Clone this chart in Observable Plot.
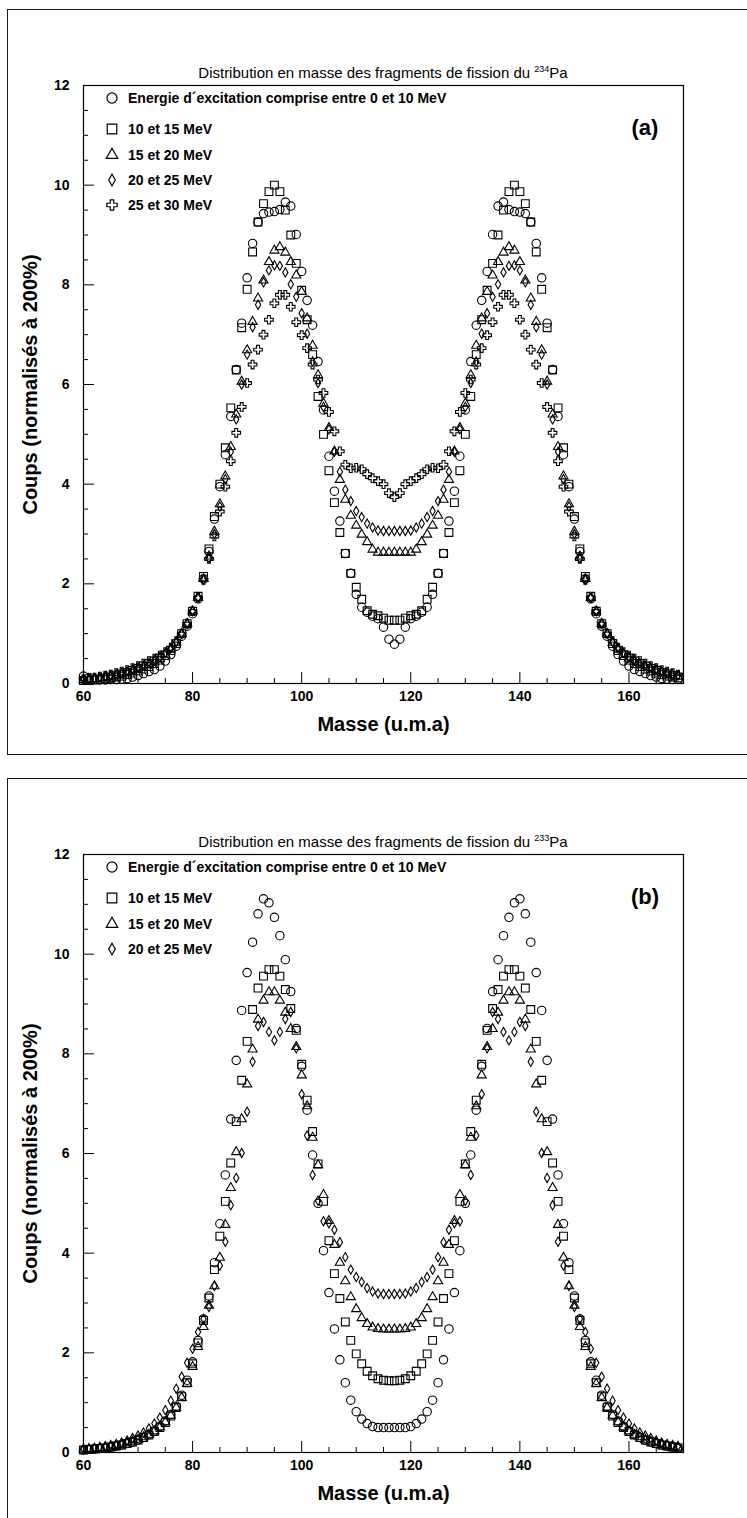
<!DOCTYPE html>
<html>
<head>
<meta charset="utf-8">
<script src="https://cdn.jsdelivr.net/npm/d3@7"></script>
<script src="https://cdn.jsdelivr.net/npm/@observablehq/plot@0.6"></script>
<style>
  html, body { margin:0; padding:0; background:#fff; }
  #root { position:relative; width:747px; height:1518px; overflow:hidden; background:#fff;
          font-family:"Liberation Sans", Arial, Helvetica, sans-serif; color:#000; }
  .panel { position:absolute; left:0; width:747px; height:769px; }
  .border { position:absolute; left:7px; top:9px; width:800px; height:746px; border:1.5px solid #1a1a1a; box-sizing:border-box; pointer-events:none; }
  .title { position:absolute; left:83px; width:600px; top:64px; height:18px; line-height:18px; text-align:center; font-size:15px; white-space:nowrap; }
  .title sup { font-size:9px; vertical-align:6px; line-height:0; }
  .tag { position:absolute; left:615px; width:60px; top:115px; line-height:26px; text-align:center; font-size:22px; font-weight:bold; }
  .legend-row { position:absolute; left:100px; height:20px; line-height:20px; font-size:14px; font-weight:bold; white-space:nowrap; }
  .legend-row svg { position:absolute; left:2px; top:0; }
  .legend-row span { position:absolute; left:28px; top:0; }
  g[aria-label="x-axis label"] { font-size:20px; }
  g[aria-label="y-axis label"] { font-size:20px; }
</style>
</head>
<body>
<div id="root"></div>
<script>
// ---------- data ----------
const masses = [
  60,61,62,63,64,65,66,67,68,69,
  70,71,72,73,74,75,76,77,78,79,
  80,81,82,83,84,85,86,87,88,89,
  90,91,92,93,94,95,96,97,98,99,
  100,101,102,103,104,105,106,107,108,109,
  110,111,112,113,114,115,116,117,118,119,
  120,121,122,123,124,125,126,127,128,129,
  130,131,132,133,134,135,136,137,138,139,
  140,141,142,143,144,145,146,147,148,149,
  150,151,152,153,154,155,156,157,158,159,
  160,161,162,163,164,165,166,167,168,169
];

// Panel (a) : 234Pa
const pa234_0_10 = [
  0.15,0.12,0.08,0.07,0.07,0.08,0.08,0.09,0.10,0.13,
  0.16,0.20,0.24,0.28,0.35,0.45,0.58,0.75,0.95,1.15,
  1.40,1.70,2.10,2.65,3.30,3.95,4.59,5.36,6.30,7.23,
  8.14,8.83,9.26,9.43,9.46,9.47,9.51,9.66,9.58,9.01,
  8.27,7.69,7.19,6.46,5.49,4.56,3.86,3.26,2.61,2.21,
  1.79,1.53,1.43,1.35,1.30,1.13,0.89,0.79,0.89,1.13,
  1.30,1.35,1.43,1.53,1.79,2.21,2.61,3.26,3.86,4.56,
  5.49,6.46,7.19,7.69,8.27,9.01,9.58,9.66,9.51,9.47,
  9.46,9.43,9.26,8.83,8.14,7.23,6.30,5.36,4.59,3.95,
  3.30,2.65,2.10,1.70,1.40,1.15,0.95,0.75,0.58,0.45,
  0.35,0.28,0.24,0.20,0.16,0.13,0.10,0.09,0.08,0.08
];
const pa234_10_15 = [
  0.06,0.06,0.07,0.08,0.09,0.11,0.13,0.15,0.18,0.21,
  0.25,0.29,0.34,0.40,0.47,0.56,0.66,0.80,1.00,1.20,
  1.45,1.75,2.15,2.70,3.35,4.00,4.73,5.53,6.29,7.14,
  7.91,8.66,9.26,9.63,9.87,10.00,9.87,9.50,9.00,8.43,
  7.89,7.30,6.60,5.76,5.00,4.27,3.63,3.03,2.61,2.21,
  1.93,1.69,1.46,1.39,1.36,1.31,1.27,1.27,1.27,1.31,
  1.36,1.39,1.46,1.69,1.93,2.21,2.61,3.03,3.63,4.27,
  5.00,5.76,6.60,7.30,7.89,8.43,9.00,9.50,9.87,10.00,
  9.87,9.63,9.26,8.66,7.91,7.14,6.29,5.53,4.73,4.00,
  3.35,2.70,2.15,1.75,1.45,1.20,1.00,0.80,0.66,0.56,
  0.47,0.40,0.34,0.29,0.25,0.21,0.18,0.15,0.13,0.11
];
const pa234_15_20 = [
  0.07,0.08,0.09,0.10,0.12,0.14,0.16,0.18,0.21,0.24,
  0.28,0.32,0.37,0.43,0.50,0.58,0.68,0.82,1.00,1.20,
  1.45,1.72,2.10,2.55,3.05,3.60,4.16,4.75,5.40,6.06,
  6.69,7.26,7.73,8.09,8.46,8.69,8.76,8.65,8.46,8.19,
  7.86,7.33,6.78,6.19,5.62,5.13,4.66,4.09,3.69,3.37,
  3.17,2.99,2.84,2.69,2.63,2.63,2.63,2.63,2.63,2.63,
  2.63,2.69,2.84,2.99,3.17,3.37,3.69,4.09,4.66,5.13,
  5.62,6.19,6.78,7.33,7.86,8.19,8.46,8.65,8.76,8.69,
  8.46,8.09,7.73,7.26,6.69,6.06,5.40,4.75,4.16,3.60,
  3.05,2.55,2.10,1.72,1.45,1.20,1.00,0.82,0.68,0.58,
  0.50,0.43,0.37,0.32,0.28,0.24,0.21,0.18,0.16,0.14
];
const pa234_20_25 = [
  0.08,0.09,0.10,0.12,0.14,0.16,0.18,0.21,0.24,0.28,
  0.32,0.36,0.41,0.47,0.53,0.61,0.70,0.83,1.00,1.20,
  1.45,1.72,2.08,2.52,3.00,3.55,4.10,4.65,5.30,6.00,
  6.60,7.15,7.60,8.05,8.29,8.39,8.38,8.25,8.01,7.76,
  7.43,7.02,6.46,6.03,5.55,5.10,4.65,4.25,3.89,3.66,
  3.46,3.34,3.21,3.13,3.07,3.06,3.06,3.06,3.06,3.06,
  3.07,3.13,3.21,3.34,3.46,3.66,3.89,4.25,4.65,5.10,
  5.55,6.03,6.46,7.02,7.43,7.76,8.01,8.25,8.38,8.39,
  8.29,8.05,7.60,7.15,6.60,6.00,5.30,4.65,4.10,3.55,
  3.00,2.52,2.08,1.72,1.45,1.20,1.00,0.83,0.70,0.61,
  0.53,0.47,0.41,0.36,0.32,0.28,0.24,0.21,0.18,0.16
];
const pa234_25_30 = [
  0.09,0.10,0.12,0.14,0.16,0.18,0.21,0.24,0.27,0.31,
  0.35,0.40,0.45,0.50,0.56,0.63,0.72,0.85,1.00,1.20,
  1.45,1.72,2.08,2.50,2.95,3.45,3.95,4.46,5.03,5.55,
  6.03,6.40,6.70,7.00,7.30,7.63,7.80,7.80,7.56,7.25,
  6.99,6.73,6.40,6.10,5.83,5.45,5.06,4.66,4.39,4.32,
  4.33,4.30,4.20,4.12,4.06,4.00,3.82,3.74,3.82,4.00,
  4.06,4.12,4.20,4.30,4.33,4.32,4.39,4.66,5.06,5.45,
  5.83,6.10,6.40,6.73,6.99,7.25,7.56,7.80,7.80,7.63,
  7.30,7.00,6.70,6.40,6.03,5.55,5.03,4.46,3.95,3.45,
  2.95,2.50,2.08,1.72,1.45,1.20,1.00,0.85,0.72,0.63,
  0.56,0.50,0.45,0.40,0.35,0.31,0.27,0.24,0.21,0.18
];

// Panel (b) : 233Pa
const pa233_0_10 = [
  0.05,0.06,0.07,0.08,0.09,0.11,0.13,0.15,0.18,0.21,
  0.25,0.30,0.36,0.43,0.52,0.63,0.76,0.93,1.15,1.45,
  1.82,2.25,2.68,3.14,3.81,4.59,5.57,6.69,7.87,8.87,
  9.63,10.24,10.81,11.11,11.03,10.74,10.37,9.89,9.25,8.51,
  7.75,6.87,5.97,5.00,4.05,3.21,2.48,1.86,1.40,1.05,
  0.82,0.67,0.58,0.52,0.50,0.50,0.50,0.50,0.50,0.50,
  0.52,0.58,0.67,0.82,1.05,1.40,1.86,2.48,3.21,4.05,
  5.00,5.97,6.87,7.75,8.51,9.25,9.89,10.37,10.74,11.03,
  11.11,10.81,10.24,9.63,8.87,7.87,6.69,5.57,4.59,3.81,
  3.14,2.68,2.25,1.82,1.45,1.15,0.93,0.76,0.63,0.52,
  0.43,0.36,0.30,0.25,0.21,0.18,0.15,0.13,0.11,0.09
];
const pa233_10_15 = [
  0.05,0.06,0.07,0.08,0.09,0.11,0.13,0.15,0.18,0.21,
  0.25,0.30,0.35,0.42,0.50,0.60,0.73,0.90,1.12,1.40,
  1.78,2.20,2.65,3.10,3.67,4.34,5.04,5.81,6.64,7.47,
  8.25,8.89,9.32,9.56,9.69,9.69,9.56,9.29,8.91,8.47,
  7.79,7.07,6.44,5.79,5.04,4.25,3.59,3.09,2.62,2.25,
  1.98,1.78,1.63,1.54,1.48,1.45,1.44,1.44,1.45,1.48,
  1.54,1.63,1.78,1.98,2.25,2.62,3.09,3.59,4.25,5.04,
  5.79,6.44,7.07,7.79,8.47,8.91,9.29,9.56,9.69,9.69,
  9.56,9.32,8.89,8.25,7.47,6.64,5.81,5.04,4.34,3.67,
  3.10,2.65,2.20,1.78,1.40,1.12,0.90,0.73,0.60,0.50,
  0.42,0.35,0.30,0.25,0.21,0.18,0.15,0.13,0.11,0.09
];
const pa233_15_20 = [
  0.06,0.07,0.08,0.09,0.10,0.12,0.14,0.16,0.19,0.22,
  0.26,0.31,0.36,0.43,0.51,0.61,0.74,0.90,1.10,1.38,
  1.72,2.12,2.52,2.95,3.34,3.91,4.57,5.31,6.03,6.69,
  7.39,8.09,8.69,9.07,9.24,9.24,9.07,8.83,8.50,8.14,
  7.57,6.95,6.32,5.77,5.17,4.65,4.17,3.81,3.44,3.12,
  2.88,2.70,2.58,2.51,2.48,2.47,2.47,2.47,2.47,2.48,
  2.51,2.58,2.70,2.88,3.12,3.44,3.81,4.17,4.65,5.17,
  5.77,6.32,6.95,7.57,8.14,8.50,8.83,9.07,9.24,9.24,
  9.07,8.69,8.09,7.39,6.69,6.03,5.31,4.57,3.91,3.34,
  2.95,2.52,2.12,1.72,1.38,1.10,0.90,0.74,0.61,0.51,
  0.43,0.36,0.31,0.26,0.22,0.19,0.16,0.14,0.12,0.10
];
const pa233_20_25 = [
  0.07,0.08,0.09,0.11,0.13,0.15,0.17,0.20,0.24,0.29,
  0.34,0.40,0.48,0.58,0.70,0.85,1.04,1.28,1.52,1.80,
  2.08,2.42,2.68,2.92,3.34,3.75,4.23,4.96,5.51,6.01,
  6.84,7.84,8.56,8.64,8.44,8.27,8.44,8.70,8.84,8.11,
  7.19,6.36,5.57,5.05,4.64,4.60,4.47,4.22,3.92,3.67,
  3.52,3.42,3.30,3.23,3.19,3.18,3.18,3.18,3.18,3.19,
  3.23,3.30,3.42,3.52,3.67,3.92,4.22,4.47,4.60,4.64,
  5.05,5.57,6.36,7.19,8.11,8.84,8.70,8.44,8.27,8.44,
  8.64,8.56,7.84,6.84,6.01,5.51,4.96,4.23,3.75,3.34,
  2.92,2.68,2.42,2.08,1.80,1.52,1.28,1.04,0.85,0.70,
  0.58,0.48,0.40,0.34,0.29,0.24,0.20,0.17,0.15,0.13
];

const labelsA = [
  "Energie d\u00b4excitation comprise entre 0 et 10 MeV",
  "10 et 15 MeV", "15 et 20 MeV", "20 et 25 MeV", "25 et 30 MeV"
];
const labelsB = [
  "Energie d\u00b4excitation comprise entre 0 et 10 MeV",
  "10 et 15 MeV", "15 et 20 MeV", "20 et 25 MeV"
];
const xMajorTicks = [60, 80, 100, 120, 140, 160];
const xMinorTicks = [65, 70, 75, 85, 90, 95, 105, 110, 115, 125, 130, 135, 145, 150, 155, 165];
const yMajorTicks = [0, 2, 4, 6, 8, 10, 12];
const yMinorTicks = [0.5, 1, 1.5, 2.5, 3, 3.5, 4.5, 5, 5.5, 6.5, 7, 7.5, 8.5, 9, 9.5, 10.5, 11, 11.5];

// ---------- styles ----------
const symbolOrder = ["circle", "square", "triangle", "diamond", "cross"];
const markerR = {circle: 4.2, square: 4.4, triangle: 3.4, diamond: 2.8, cross: 3.6};
const legendArea = {circle: 80, square: 92, triangle: 58, diamond: 38, cross: 60};
const d3Sym = {circle: d3.symbolCircle, square: d3.symbolSquare, triangle: d3.symbolTriangle, diamond: d3.symbolDiamond, cross: d3.symbolCross};
const legendY = [98, 129, 155, 180, 205];
const MINOR = 5, MAJOR = 11;

function buildPanel(top, series, labels, tag, iso) {
  const root = document.getElementById("root");
  const panel = document.createElement("div");
  panel.className = "panel";
  panel.style.top = top + "px";
  root.appendChild(panel);

  const marks = [
    // inward ticks: drawn outward then shifted back inside the frame
    Plot.axisX({ticks: xMinorTicks, tickSize: MINOR, dy: -MINOR, fill: "none", label: null}),
    Plot.axisX({ticks: xMajorTicks, tickSize: MAJOR, dy: -MAJOR, fill: "none", label: null}),
    Plot.axisX({ticks: xMajorTicks, tickSize: 0, tickPadding: 8, label: "Masse (u.m.a)",
                labelAnchor: "center", labelOffset: 47, labelArrow: "none"}),
    Plot.axisY({ticks: yMinorTicks, tickSize: MINOR, dx: MINOR, fill: "none", label: null}),
    Plot.axisY({ticks: yMajorTicks, tickSize: MAJOR, dx: MAJOR, fill: "none", label: null}),
    Plot.axisY({ticks: yMajorTicks, tickSize: 0, tickPadding: 14, label: "Coups (normalisés à 200%)",
                labelAnchor: "center", labelOffset: 61, labelArrow: "none"}),
    ...series.map((vals, i) => Plot.dot(vals, {
      x: masses, y: vals, symbol: symbolOrder[i], r: markerR[symbolOrder[i]],
      fill: "none", stroke: "black", strokeWidth: 1.1
    })),
    Plot.frame({stroke: "black", strokeWidth: 1.2})
  ];

  const svg = Plot.plot({
    width: 747, height: 760,
    marginLeft: 83, marginRight: 64, marginTop: 85, marginBottom: 77,
    x: {domain: [60, 170]},
    y: {domain: [0, 12]},
    style: {fontFamily: '"Liberation Sans", Arial, Helvetica, sans-serif', fontSize: "14px",
            fontWeight: "bold", color: "black", background: "transparent", overflow: "visible"},
    marks
  });
  svg.style.position = "absolute";
  svg.style.left = "0px";
  svg.style.top = "0px";
  panel.appendChild(svg);

  const border = document.createElement("div");
  border.className = "border";
  panel.appendChild(border);

  const title = document.createElement("div");
  title.className = "title";
  title.innerHTML = "Distribution en masse des fragments de fission du <sup>" + iso + "</sup>Pa";
  panel.appendChild(title);

  labels.forEach((lab, i) => {
    const row = document.createElement("div");
    row.className = "legend-row";
    row.style.top = (legendY[i] - 10) + "px";
    const s = d3.create("svg").attr("width", 20).attr("height", 20);
    s.append("path")
      .attr("transform", "translate(10,10)")
      .attr("d", d3.symbol(d3Sym[symbolOrder[i]], legendArea[symbolOrder[i]])())
      .attr("fill", "none").attr("stroke", "black").attr("stroke-width", 1.2);
    row.appendChild(s.node());
    const sp = document.createElement("span");
    sp.textContent = lab;
    row.appendChild(sp);
    panel.appendChild(row);
  });

  const tg = document.createElement("div");
  tg.className = "tag";
  tg.textContent = tag;
  panel.appendChild(tg);
}

buildPanel(0, [pa234_0_10, pa234_10_15, pa234_15_20, pa234_20_25, pa234_25_30], labelsA, "(a)", "234");
buildPanel(769, [pa233_0_10, pa233_10_15, pa233_15_20, pa233_20_25], labelsB, "(b)", "233");
</script>
</body>
</html>
